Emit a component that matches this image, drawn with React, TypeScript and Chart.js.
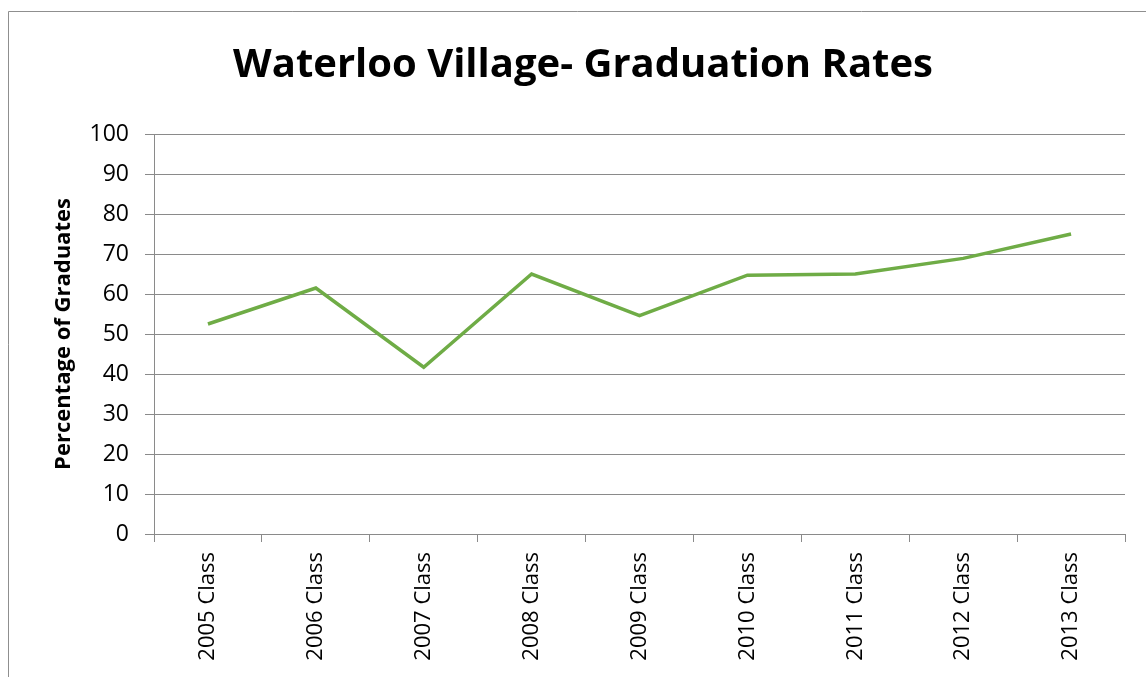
import React, { useEffect, useRef } from "react";
import { Chart, registerables } from "chart.js";

Chart.register(...registerables);

const categories = [
  "2005 Class",
  "2006 Class",
  "2007 Class",
  "2008 Class",
  "2009 Class",
  "2010 Class",
  "2011 Class",
  "2012 Class",
  "2013 Class",
];
const graduationRates = [52.5, 61.5, 41.7, 65, 54.6, 64.7, 65, 68.9, 75];
const chartTitle = "Waterloo Village- Graduation Rates";
const yAxisTitle = "Percentage of Graduates";

const FONT = "'Open Sans', 'Noto Sans', sans-serif";
const GRID = "#8a8a8a";

const decorPlugin = {
  id: "decor",
  afterDraw(chart: any) {
    const ctx = chart.ctx;
    const area = chart.chartArea;
    ctx.save();
    // outer frame
    ctx.strokeStyle = "#8f8f8f";
    ctx.lineWidth = 1;
    ctx.beginPath();
    ctx.moveTo(8.5, 700);
    ctx.lineTo(8.5, 11.5);
    ctx.lineTo(1146, 11.5);
    ctx.stroke();
    // title
    ctx.fillStyle = "#000";
    ctx.font = `bold 40px ${FONT}`;
    ctx.textAlign = "center";
    ctx.textBaseline = "middle";
    ctx.fillText(chartTitle, 583, 66);
    // y axis title
    ctx.translate(64, (area.top + area.bottom) / 2);
    ctx.rotate(-Math.PI / 2);
    ctx.font = `bold 22px ${FONT}`;
    ctx.fillText(yAxisTitle, 0, 0);
    ctx.restore();
  },
};

export default function App() {
  const canvasRef = useRef<HTMLCanvasElement>(null);

  useEffect(() => {
    if (!canvasRef.current) return;
    const chart = new Chart(canvasRef.current, {
      type: "line",
      data: {
        labels: categories,
        datasets: [
          {
            label: "Graduation Rate",
            data: graduationRates,
            borderColor: "#6fac46",
            backgroundColor: "#6fac46",
            borderWidth: 3.5,
            pointRadius: 0,
            pointHoverRadius: 0,
            tension: 0,
            fill: false,
          },
        ],
      },
      options: {
        animation: false,
        responsive: true,
        maintainAspectRatio: false,
        layout: { padding: { top: 134, right: 21, bottom: 0, left: 0 } },
        plugins: {
          legend: { display: false },
          title: { display: false },
          tooltip: { enabled: false },
        },
        scales: {
          x: {
            offset: true,
            grid: {
              offset: true,
              drawOnChartArea: false,
              drawTicks: true,
              tickLength: 8,
              color: GRID,
            },
            border: { display: true, color: GRID },
            ticks: {
              autoSkip: false,
              maxRotation: 90,
              minRotation: 90,
              padding: 10,
              color: "#000",
              font: { family: FONT, size: 22 },
            },
            afterFit: (axis: any) => {
              axis.height = 143;
            },
          },
          y: {
            min: 0,
            max: 100,
            ticks: {
              stepSize: 10,
              padding: 16,
              color: "#000",
              font: { family: FONT, size: 23 },
            },
            grid: {
              color: GRID,
              tickLength: 9,
              drawTicks: true,
            },
            border: { display: true, color: GRID },
            afterFit: (axis: any) => {
              axis.width = 154;
            },
          },
        },
      },
      plugins: [decorPlugin],
    });
    return () => chart.destroy();
  }, []);

  return (
    <div
      style={{
        position: "absolute",
        left: 0,
        top: 0,
        width: 1146,
        height: 677,
        background: "#fff",
      }}
    >
      <canvas ref={canvasRef} />
    </div>
  );
}
